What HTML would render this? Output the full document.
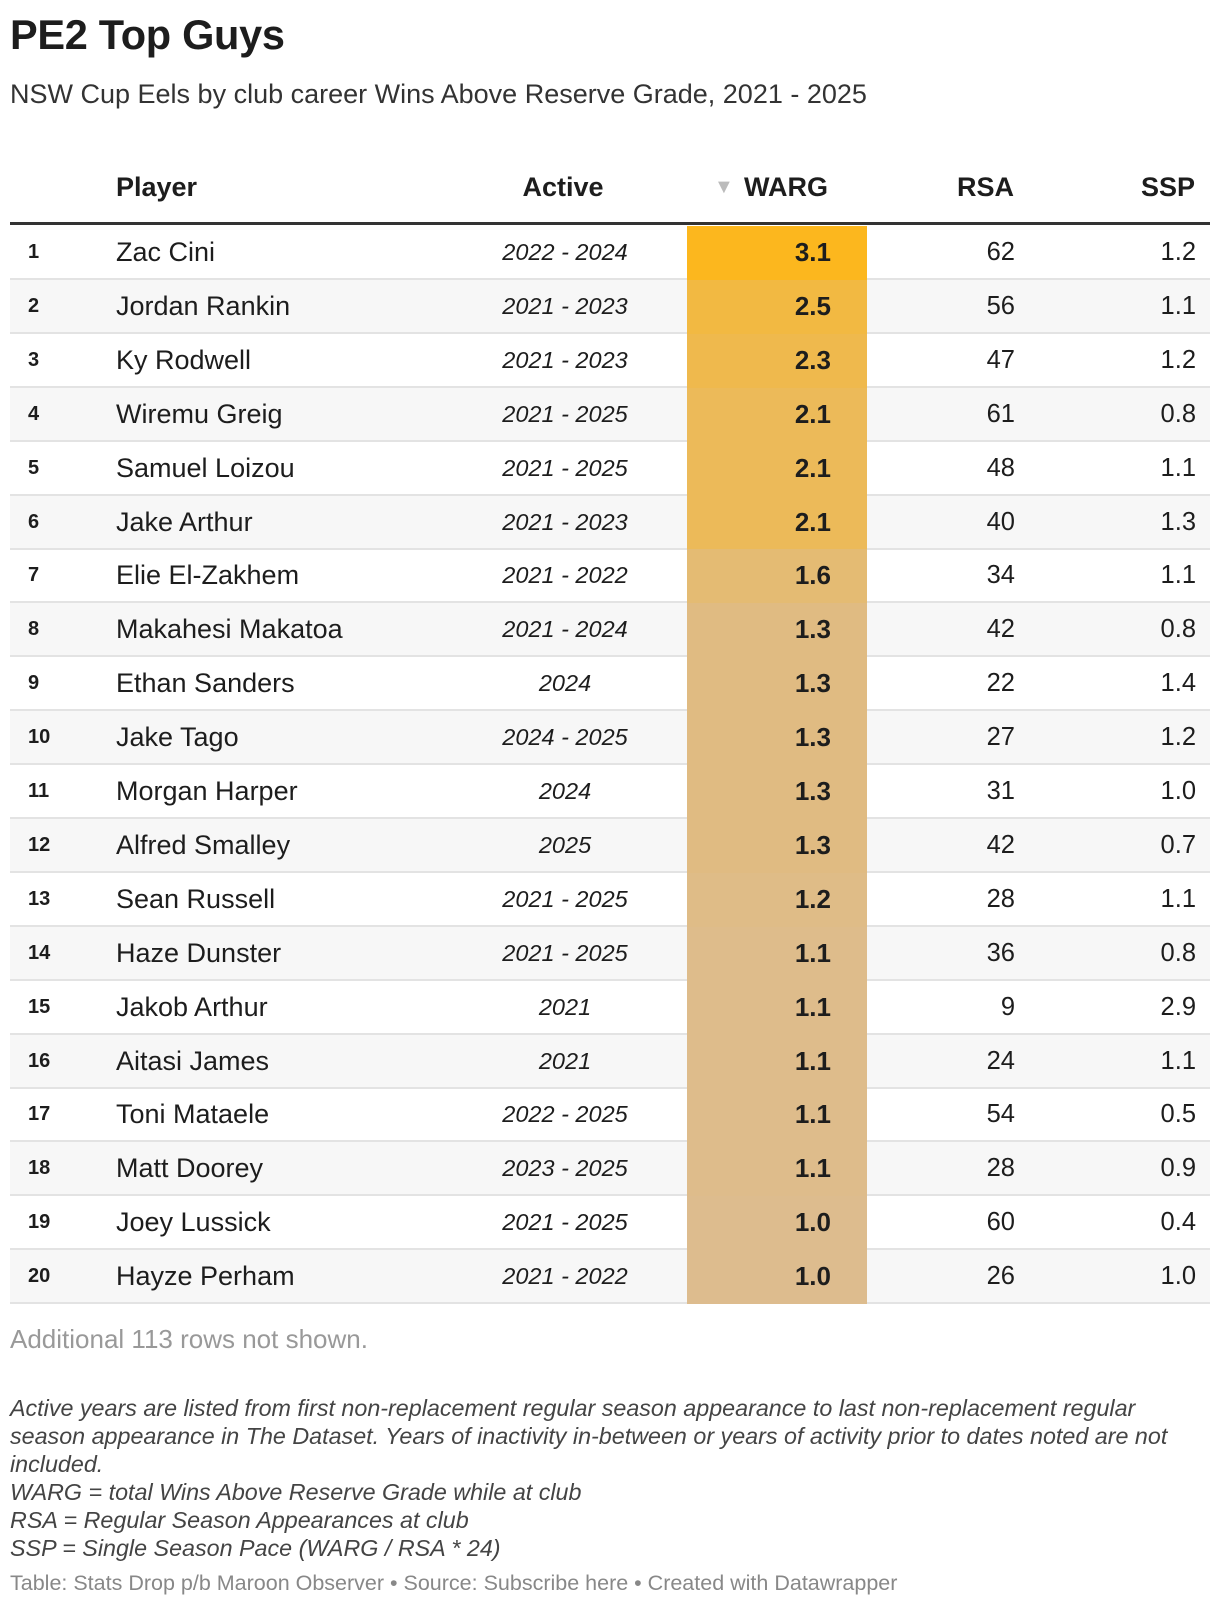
<!DOCTYPE html>
<html><head><meta charset="utf-8">
<style>
body{margin:0;width:1220px;height:1608px;background:#fff;font-family:"Liberation Sans",sans-serif;color:#1d1d1d;position:relative;overflow:hidden}
.a{position:absolute;white-space:nowrap}
#title{left:10px;top:11px;font-size:41.5px;font-weight:bold;letter-spacing:-0.3px}
#sub{left:10px;top:79px;font-size:27px;color:#333}
.h{top:172px;font-size:27px;font-weight:bold}
#rule{left:10px;top:222px;width:1200px;height:3px;background:#333}
.row{position:absolute;left:10px;width:1200px;height:52px;border-bottom:2px solid #e3e3e3}
.row span{position:absolute;top:0;line-height:52px;white-space:nowrap}
.rk{left:18px;font-size:20px;font-weight:bold}
.pl{left:106px;font-size:27px}
.ac{left:455px;width:200px;text-align:center;font-style:italic;font-size:23.5px}
.wg{left:677px;width:180px;height:54px;text-align:right;font-size:26px;font-weight:bold;box-sizing:border-box;padding-right:36px}
.rs{left:805px;width:200px;text-align:right;font-size:25.5px}
.ss{left:986px;width:200px;text-align:right;font-size:25.5px}
#addl{left:10px;top:1324px;font-size:26px;color:#999}
.note{left:10px;font-size:23.3px;font-style:italic;color:#444}
#foot{left:10px;top:1571px;font-size:21.5px;color:#888}
</style></head><body>
<div class="a" id="title">PE2 Top Guys</div>
<div class="a" id="sub">NSW Cup Eels by club career Wins Above Reserve Grade, 2021 - 2025</div>
<div class="a h" style="left:116px">Player</div>
<div class="a h" style="left:463px;width:200px;text-align:center">Active</div>
<div class="a h" style="left:714px;top:176px;font-size:20px;color:#bbb">▼</div>
<div class="a h" style="left:744px">WARG</div>
<div class="a h" style="left:814px;width:200px;text-align:right">RSA</div>
<div class="a h" style="left:995px;width:200px;text-align:right">SSP</div>
<div class="a" id="rule"></div>
<div id="rows"></div>
<div class="a" id="addl">Additional 113 rows not shown.</div>
<div class="a note" style="top:1395px">Active years are listed from first non-replacement regular season appearance to last non-replacement regular</div>
<div class="a note" style="top:1423px">season appearance in The Dataset. Years of inactivity in-between or years of activity prior to dates noted are not</div>
<div class="a note" style="top:1451px">included.</div>
<div class="a note" style="top:1479px">WARG = total Wins Above Reserve Grade while at club</div>
<div class="a note" style="top:1507px">RSA = Regular Season Appearances at club</div>
<div class="a note" style="top:1535px">SSP = Single Season Pace (WARG / RSA * 24)</div>
<div class="a" id="foot">Table: Stats Drop p/b Maroon Observer • Source: Subscribe here • Created with Datawrapper</div>
<script>
const players=["Zac Cini","Jordan Rankin","Ky Rodwell","Wiremu Greig","Samuel Loizou","Jake Arthur","Elie El-Zakhem","Makahesi Makatoa","Ethan Sanders","Jake Tago","Morgan Harper","Alfred Smalley","Sean Russell","Haze Dunster","Jakob Arthur","Aitasi James","Toni Mataele","Matt Doorey","Joey Lussick","Hayze Perham"];
const active=["2022 - 2024","2021 - 2023","2021 - 2023","2021 - 2025","2021 - 2025","2021 - 2023","2021 - 2022","2021 - 2024","2024","2024 - 2025","2024","2025","2021 - 2025","2021 - 2025","2021","2021","2022 - 2025","2023 - 2025","2021 - 2025","2021 - 2022"];
const warg=[3.1,2.5,2.3,2.1,2.1,2.1,1.6,1.3,1.3,1.3,1.3,1.3,1.2,1.1,1.1,1.1,1.1,1.1,1.0,1.0];
const rsa=[62,56,47,61,48,40,34,42,22,27,31,42,28,36,9,24,54,28,60,26];
const ssp=[1.2,1.1,1.2,0.8,1.1,1.3,1.1,0.8,1.4,1.2,1.0,0.7,1.1,0.8,2.9,1.1,0.5,0.9,0.4,1.0];
function col(v){const t=Math.max(0,Math.min(1,(v-1)/2.1));const lo=[221,188,142],hi=[252,183,30];
const c=lo.map((l,i)=>Math.round(l+(hi[i]-l)*Math.pow(t,1.15)));return `rgb(${c[0]},${c[1]},${c[2]})`;}
const body=document.getElementById('rows');
const top0=226,pitch=53.9;
players.forEach((p,i)=>{
 const r=document.createElement('div');r.className='row';
 
 
 r.style.top=(top0+i*pitch)+'px';
 if(i%2==1)r.style.background='#f7f7f7';
 const cells=[['rk',i+1,'rank-cell'],['pl',p,'player-cell'],['ac',active[i],'active-cell'],['wg',warg[i].toFixed(1),'warg-cell'],['rs',rsa[i],'rsa-cell'],['ss',ssp[i].toFixed(1),'ssp-cell']];
 cells.forEach(c=>{const s=document.createElement('span');s.className=c[0];s.textContent=c[1];
  
  
  if(c[0]=='wg')s.style.background=col(warg[i]);
  r.appendChild(s);});
 body.appendChild(r);
});
</script>
</body></html>
